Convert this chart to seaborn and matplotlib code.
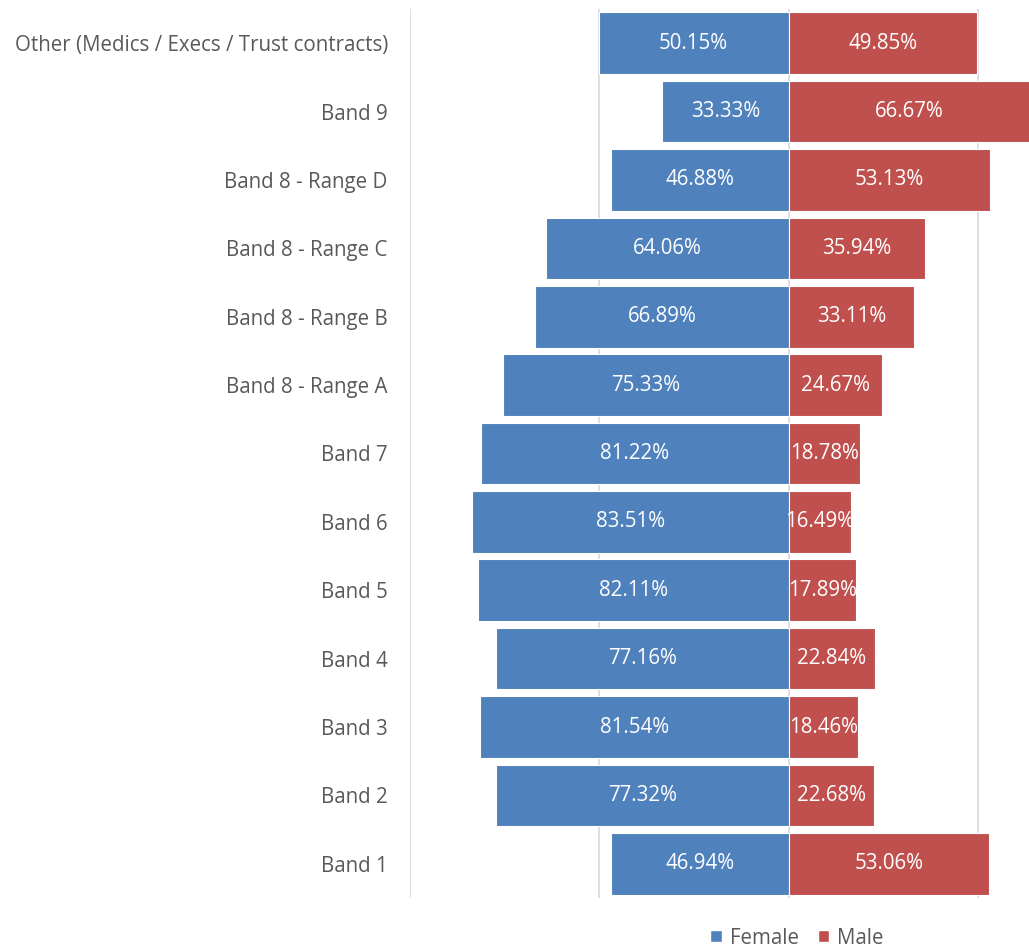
import matplotlib
matplotlib.use("Agg")
import matplotlib.pyplot as plt
import seaborn as sns
import pandas as pd
import numpy as np
from matplotlib.patches import Patch

categories = ["Other (Medics / Execs / Trust contracts)", "Band 9", "Band 8 - Range D",
              "Band 8 - Range C", "Band 8 - Range B", "Band 8 - Range A", "Band 7",
              "Band 6", "Band 5", "Band 4", "Band 3", "Band 2", "Band 1"]
female = [50.15, 33.33, 46.88, 64.06, 66.89, 75.33, 81.22, 83.51, 82.11, 77.16, 81.54, 77.32, 46.94]
male = [49.85, 66.67, 53.13, 35.94, 33.11, 24.67, 18.78, 16.49, 17.89, 22.84, 18.46, 22.68, 53.06]

BLUE = "#4F81BD"
RED = "#C0504D"
GRAY = "#595959"
FS = 14.8

sns.set_theme(style="white")
plt.rcParams['font.family'] = ['Open Sans', 'DejaVu Sans']

df = pd.DataFrame({"cat": categories, "female": [-v for v in female], "male": male})

fig = plt.figure(figsize=(10.29, 9.49), dpi=100)
ax = fig.add_axes([410/1029, 51/949, 1 - 410/1029, 889/949])

sns.barplot(data=df, x="female", y="cat", color=BLUE, width=0.9, ax=ax,
            edgecolor="white", linewidth=0.8, saturation=1, orient="h")
sns.barplot(data=df, x="male", y="cat", color=RED, width=0.9, ax=ax,
            edgecolor="white", linewidth=0.8, saturation=1, orient="h")

ax.set_xlim(-100, 63.5)
ax.set_ylim(len(categories) - 0.5, -0.5)
ax.set_xticks([-100, -50, 0, 50])
ax.xaxis.grid(True, color="#D9D9D9", linewidth=1.2)
ax.set_axisbelow(True)
ax.set_xticklabels([])
ax.tick_params(axis="x", length=0)
ax.tick_params(axis="y", length=0, pad=16, labelsize=FS, labelcolor=GRAY)
ax.set_xlabel("")
ax.set_ylabel("")
for s in ax.spines.values():
    s.set_visible(False)

containers = ax.containers
ax.bar_label(containers[0], labels=[f"{v:.2f}%" for v in female], label_type="center",
             color="white", fontsize=FS)
ax.bar_label(containers[1], labels=[f"{v:.2f}%" for v in male], label_type="center",
             color="white", fontsize=FS)

handles = [Patch(facecolor=BLUE, label="Female"), Patch(facecolor=RED, label="Male")]
leg = fig.legend(handles=handles, loc="center", bbox_to_anchor=(797/1029, 11/949), ncol=2,
                 frameon=False, fontsize=FS, handlelength=0.55, handleheight=0.55,
                 handletextpad=0.4, columnspacing=0.9)
for t in leg.get_texts():
    t.set_color(GRAY)

fig.savefig("out.png", dpi=100)
